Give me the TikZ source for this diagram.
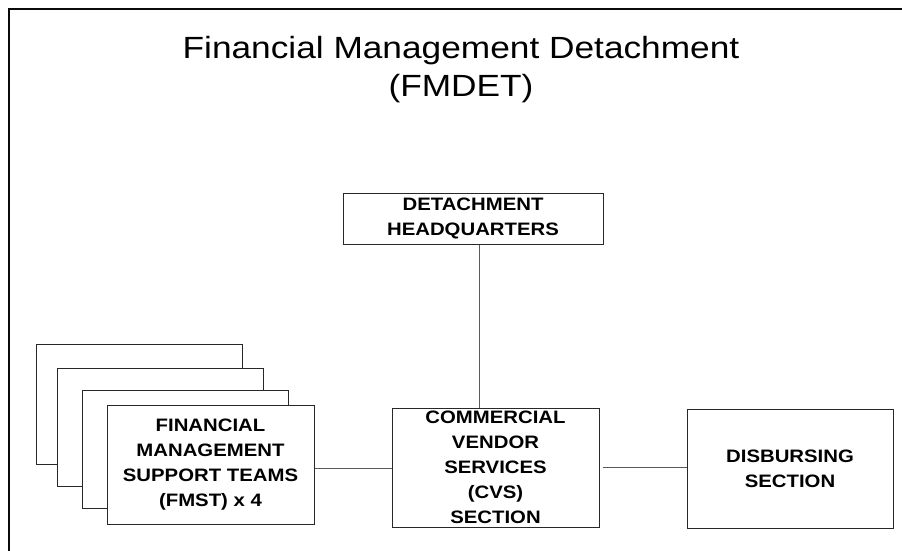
\documentclass[tikz,border=0pt]{standalone}
\usepackage{fontspec}
\usepackage{tikz}
\usetikzlibrary{positioning}
\newfontfamily\titlefont[FakeStretch=1.15]{Liberation Sans}
\newfontfamily\boxfont[FakeStretch=1.13]{Liberation Sans}

\tikzset{
  unitbox/.style={draw={rgb, 255:red, 40; green, 40; blue, 40}, line width=0.75pt, fill=white, inner sep=0pt, align=center, font=\boxfont\bfseries\fontsize{13.5}{18.75}\selectfont},
  link/.style={draw={rgb, 255:red, 90; green, 90; blue, 90}, line width=0.75pt}
}

\begin{document}
\begin{tikzpicture}[x=0.75pt,y=0.75pt,yscale=-1,xscale=1]
\useasboundingbox (0,0) rectangle (902,550);

%Frame
\draw [line width=1.5pt, color={rgb, 255:red, 10; green, 10; blue, 10}] (8.5,556) -- (8.5,8.5) -- (908,8.5);

% Title
\node (title) at (461,36) [anchor=north, inner sep=0pt, align=center, font=\titlefont\fontsize{23}{28.5}\selectfont] {Financial Management Detachment\\(FMDET)};

%Shape: Rectangle [headquarters]
\node (hq) at (473,218.5) [unitbox, minimum width=195pt, minimum height=38.25pt] {DETACHMENT\\HEADQUARTERS};

%Shape: Rectangle [support teams, stacked]
\node (fmsta) at (139,404) [unitbox, minimum width=154.5pt, minimum height=90pt] {};
\node (fmstb) at (160,427) [unitbox, minimum width=154.5pt, minimum height=88.5pt] {};
\node (fmstc) at (185,449) [unitbox, minimum width=154.5pt, minimum height=88.5pt] {};
\node (fmst) at (210.5,464.5) [unitbox, minimum width=155.25pt, minimum height=89.25pt] {FINANCIAL\\MANAGEMENT\\SUPPORT TEAMS\\(FMST) x 4};

%Shape: Rectangle [cvs]
\node (cvs) at (495.5,467.5) [unitbox, minimum width=155.25pt, minimum height=89.25pt] {COMMERCIAL\\VENDOR\\SERVICES\\(CVS)\\SECTION};

%Shape: Rectangle [disbursing]
\node (disb) at (790,468.5) [unitbox, minimum width=154.5pt, minimum height=89.25pt] {DISBURSING\\SECTION};

%Straight Lines
\coordinate (hqfoot) at ([xshift=4.5pt]hq.south);
\draw [link] (hqfoot) -- (hqfoot |- cvs.north);
\coordinate (fmstout) at ([yshift=3pt]fmst.east);
\draw [link] (fmstout) -- (fmstout -| cvs.west);
\draw [link, shorten <=2.25pt] (cvs.east) -- (cvs.east -| disb.west);

\end{tikzpicture}
\end{document}
